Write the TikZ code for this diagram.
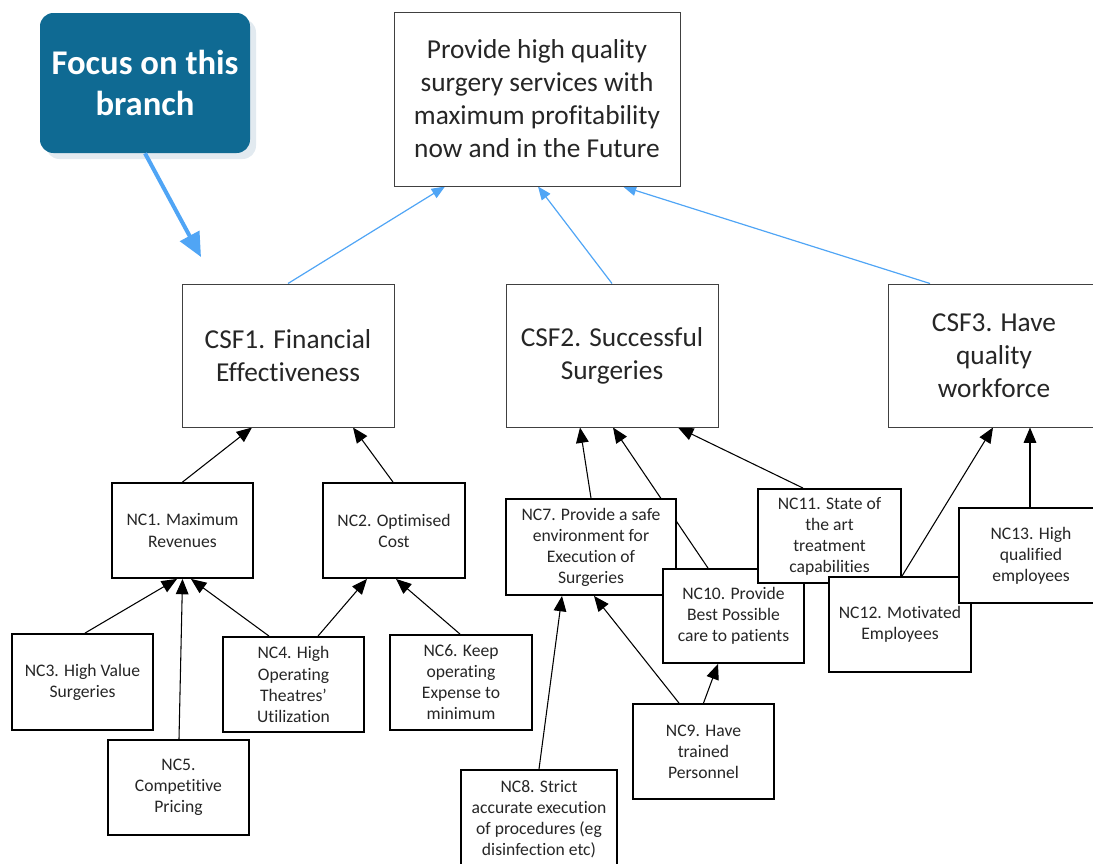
\documentclass[tikz,border=0pt]{standalone}
\usepackage{fontspec}
\setmainfont{Carlito}[RawFeature={-liga;-clig;-calt;-dlig}]
\usetikzlibrary{arrows.meta,shadows,backgrounds,calc}
\definecolor{focusc}{RGB}{15,106,147}
\definecolor{shadc}{RGB}{226,234,240}
\definecolor{bluec}{RGB}{80,165,245}
\definecolor{txt}{RGB}{38,38,38}
\definecolor{csfline}{RGB}{64,64,64}
\begin{document}
\begin{tikzpicture}[x=0.75pt,y=-0.75pt,
  bigbox/.style={draw=csfline, line width=0.75pt, fill=white, align=center, text=txt, font=\fontsize{20.5}{24.75}\selectfont, inner sep=0pt},
  ncbox/.style={draw=black, line width=1.4pt, fill=white, align=center, text=txt, font=\fontsize{13.2}{15.8}\selectfont, inner sep=0pt},
  focusbox/.style={fill=focusc, rounded corners=10pt, align=center, text=white, font=\bfseries\fontsize{26}{31.3}\selectfont, inner sep=0pt, drop shadow={shadow xshift=4.5pt, shadow yshift=-4.5pt, fill=shadc, opacity=1}},
  blarrow/.style={draw=bluec, line width=0.9pt, -{Triangle[length=10pt,width=8pt]}},
  bkarrow/.style={draw=black, line width=0.8pt, -{Triangle[length=11.5pt,width=9.5pt]}},
  focusarrow/.style={draw=bluec, line width=3pt, -{Triangle[length=18pt,width=16pt]}},
  sz/.style 2 args={minimum width=#1*0.75pt, minimum height=#2*0.75pt}
]
\useasboundingbox (0,0) rectangle (1093,864);

% focus callout
\node[focusbox, sz={210}{140}] (focus) at (145,83) {Focus on this\\branch};
\coordinate (focustip) at (201,257);

% goal
\node[bigbox, sz={286}{174}] (top) at (537,99) {Provide high quality\\surgery services with\\maximum profitability\\now and in the Future};

% CSFs
\node[bigbox, sz={212}{143}] (csf1) at (288,355.5) {CSF1. Financial\\Effectiveness};
\node[bigbox, sz={212}{143}] (csf2) at (612,355.5) {CSF2. Successful\\Surgeries};
\node[bigbox, sz={212}{143}] (csf3) at (994,355.5) {CSF3. Have\\quality\\workforce};

% NCs
\node[ncbox, sz={141}{95}] (nc1) at (182.5,530.5) {NC1. Maximum\\Revenues};
\node[ncbox, sz={142}{95}] (nc2) at (394,530.5) {NC2. Optimised\\Cost};
\node[ncbox, sz={141}{96}] (nc3) at (82.5,682) {NC3. High Value\\Surgeries};
\node[ncbox, sz={141}{95}] (nc4) at (293.5,684.5) {NC4. High\\Operating\\Theatres’\\Utilization};
\node[ncbox, sz={141}{95}] (nc5) at (178.5,787.5) {NC5.\\Competitive\\Pricing};
\node[ncbox, sz={142}{95}] (nc6) at (461,682.5) {NC6. Keep\\operating\\Expense to\\minimum};
\node[ncbox, sz={156}{99}] (nc8) at (539,819.5) {NC8. Strict\\accurate execution\\of procedures (eg\\disinfection etc)};
\node[ncbox, sz={141}{95}] (nc9) at (703.5,751.5) {NC9. Have\\trained\\Personnel};
\node[ncbox, sz={170}{96}] (nc7) at (591,547) {NC7. Provide a safe\\environment for\\Execution of\\Surgeries};
\node[ncbox, sz={141}{94}] (nc10) at (733.5,616) {NC10. Provide\\Best Possible\\care to patients};
\node[ncbox, sz={143}{94}] (nc11) at (829.5,536) {NC11. State of\\the art\\treatment\\capabilities};
\node[ncbox, sz={142}{95}] (nc12) at (900,624.5) {NC12. Motivated\\Employees};
\node[ncbox, sz={144}{95}] (nc13) at (1031,555.5) {NC13. High\\qualified\\employees};

\begin{scope}[on background layer]
% blue arrows
\draw[blarrow] (csf1.north) -- ($(top.south)+(-92,0)$);
\draw[blarrow] (csf2.north) -- ($(top.south)+(1,0)$);
\draw[blarrow] ($(csf3.north)+(-64,0)$) -- ($(top.south)+(86,0)$);
% black arrows
\draw[bkarrow] (nc1.north) -- ($(csf1.south)+(-36,0)$);
\draw[bkarrow] ($(nc2.north)+(-1,0)$) -- ($(csf1.south)+(65,0)$);
\draw[bkarrow] ($(nc3.north)+(2.5,0)$) -- ($(nc1.south)+(-5.5,0)$);
\draw[bkarrow] ($(nc5.north)+(0.5,0)$) -- (nc1.south);
\draw[bkarrow] ($(nc4.north)+(-24.5,0)$) -- ($(nc1.south)+(8.5,0)$);
\draw[bkarrow] ($(nc4.north)+(24.5,0)$) -- ($(nc2.south)+(-27,0)$);
\draw[bkarrow] ($(nc6.north)+(-1,0)$) -- ($(nc2.south)+(2,0)$);
\draw[bkarrow] (nc7.north) -- ($(csf2.south)+(-32,0)$);
\draw[bkarrow] ($(nc10.north)+(-25.5,0)$) -- ($(csf2.south)+(1,0)$);
\draw[bkarrow] ($(nc11.north)+(-26.5,0)$) -- ($(csf2.south)+(66,0)$);
\draw[bkarrow] ($(nc12.north)+(2,0)$) -- ($(csf3.south)+(-1,0)$);
\draw[bkarrow] ($(nc13.north)+(-1,0)$) -- ($(csf3.south)+(36,0)$);
\draw[bkarrow] (nc8.north) -- ($(nc7.south)+(-29,0)$);
\draw[bkarrow] ($(nc9.north)+(-24.5,0)$) -- ($(nc7.south)+(3,0)$);
\draw[bkarrow] (nc9.north) -- ($(nc10.south)+(-15.5,0)$);
\end{scope}

\draw[focusarrow] (focus.south) -- (focustip);
\end{tikzpicture}
\end{document}
